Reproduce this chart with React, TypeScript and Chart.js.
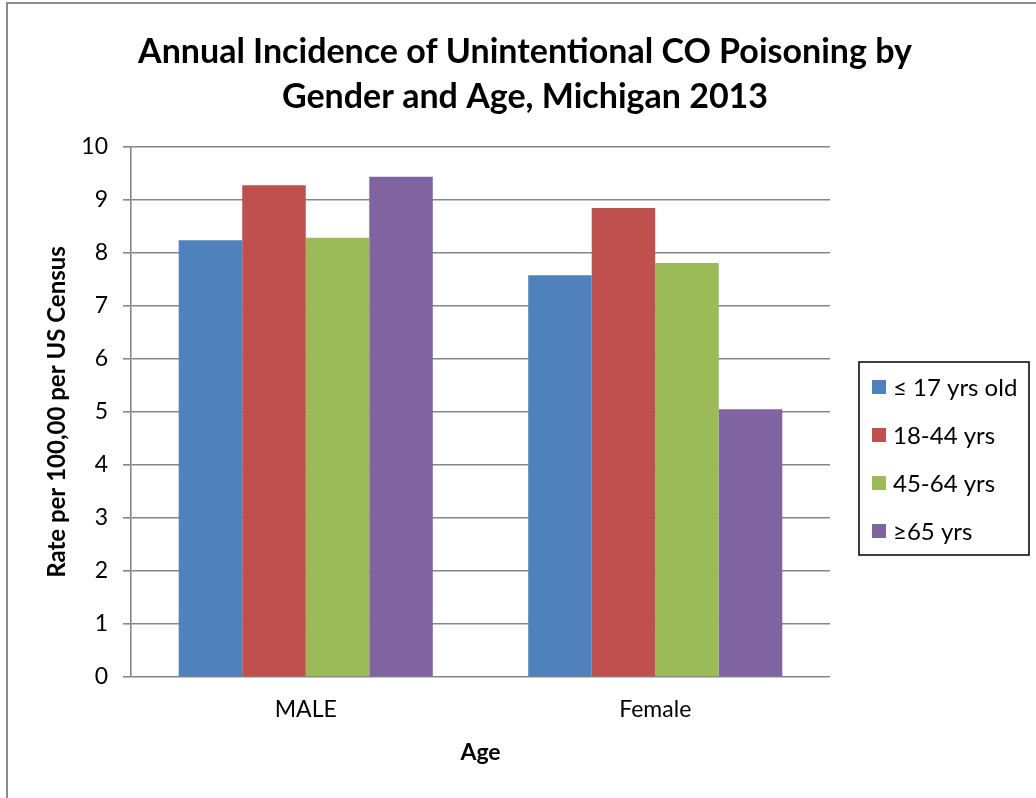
import { useEffect, useRef } from "react";
import { Chart, registerables } from "chart.js";

Chart.register(...registerables);

const categories = ["MALE", "Female"];
const seriesLabels = ["≤ 17 yrs old", "18-44 yrs", "45-64 yrs", "≥65 yrs"];
const under17 = [8.24, 7.58];
const age18to44 = [9.28, 8.85];
const age45to64 = [8.29, 7.81];
const age65plus = [9.44, 5.05];
const seriesColors = ["#4F81BD", "#C0504D", "#9BBB59", "#8064A2"];
const titleLines = ["Annual Incidence of Unintentional CO Poisoning by", "Gender and Age, Michigan 2013"];
const yAxisTitle = "Rate per 100,00 per US Census";
const xAxisTitle = "Age";
const yMin = 0;
const yMax = 10;
const yStep = 1;

const FONT = "Lato, 'Open Sans', sans-serif";
const GRID = "#868686";

const boxedLegend = {
  id: "boxedLegend",
  afterDraw(chart: any) {
    const ctx = chart.ctx;
    const x = 859, y = 362, w = 170, h = 193;
    ctx.save();
    ctx.strokeStyle = "#000";
    ctx.lineWidth = 1.5;
    ctx.strokeRect(x, y, w, h);
    ctx.font = `24px ${FONT}`;
    ctx.textBaseline = "middle";
    chart.data.datasets.forEach((ds: any, i: number) => {
      const cy = 387 + i * 48;
      ctx.fillStyle = ds.backgroundColor;
      ctx.fillRect(872, cy - 7, 14, 14);
      ctx.fillStyle = "#000";
      ctx.fillText(ds.label, 893, cy + 1);
    });
    ctx.restore();
  },
};

export default function App() {
  const ref = useRef<HTMLCanvasElement | null>(null);
  useEffect(() => {
    if (!ref.current) return;
    const datasets = [under17, age18to44, age45to64, age65plus].map((d, i) => ({
      label: seriesLabels[i],
      data: d,
      backgroundColor: seriesColors[i],
      borderWidth: 0,
      categoryPercentage: 0.727,
      barPercentage: 1,
    }));
    const chart = new Chart(ref.current, {
      type: "bar",
      data: { labels: categories, datasets },
      plugins: [boxedLegend],
      options: {
        responsive: false,
        animation: false,
        layout: { padding: { left: 14, right: 0, top: 0, bottom: 28 } },
        plugins: {
          legend: { display: false },
          tooltip: { enabled: false },
          title: {
            display: true,
            text: titleLines,
            color: "#000",
            font: { family: FONT, size: 34, weight: "bold", lineHeight: 45 / 34 },
            padding: { top: 29.5, bottom: 27.5 },
          },
        },
        scales: {
          x: {
            grid: { display: false, drawTicks: false },
            border: { display: false },
            ticks: { color: "#000", font: { family: FONT, size: 23 }, padding: 19 },
            title: {
              display: true,
              text: xAxisTitle,
              color: "#000",
              font: { family: FONT, size: 23, weight: "bold" },
              padding: { top: 4, bottom: 4 },
            },
            afterFit: (s: any) => { s.height = 93; },
          },
          y: {
            min: yMin,
            max: yMax,
            ticks: { stepSize: yStep, color: "#000", font: { family: FONT, size: 23 }, padding: 15 },
            grid: { color: GRID, lineWidth: 1.6, tickLength: 8 },
            border: { color: GRID, width: 1.6 },
            title: {
              display: true,
              text: yAxisTitle,
              color: "#000",
              font: { family: FONT, size: 24, weight: "bold" },
              padding: { top: 28.6, bottom: 4 },
            },
            afterFit: (s: any) => { s.width = 117; },
          },
          spacer: {
            type: "linear",
            position: "right",
            display: true,
            grid: { display: false, drawOnChartArea: false, drawTicks: false },
            border: { display: false },
            ticks: { display: false },
            afterFit: (s: any) => { s.width = 206; },
          },
        },
      } as any,
    });
    return () => chart.destroy();
  }, []);
  return (
    <div style={{ position: "absolute", left: 0, top: 0, width: 1036, height: 798, background: "#fff" }}>
      <div
        style={{
          position: "absolute",
          left: 6,
          top: 2,
          width: 1030,
          height: 796,
          borderLeft: "2px solid #8c8c8c",
          borderTop: "2px solid #8c8c8c",
          boxSizing: "border-box",
        }}
      />
      <canvas ref={ref} width={1036} height={798} style={{ position: "absolute", left: 0, top: 0 }} />
    </div>
  );
}
